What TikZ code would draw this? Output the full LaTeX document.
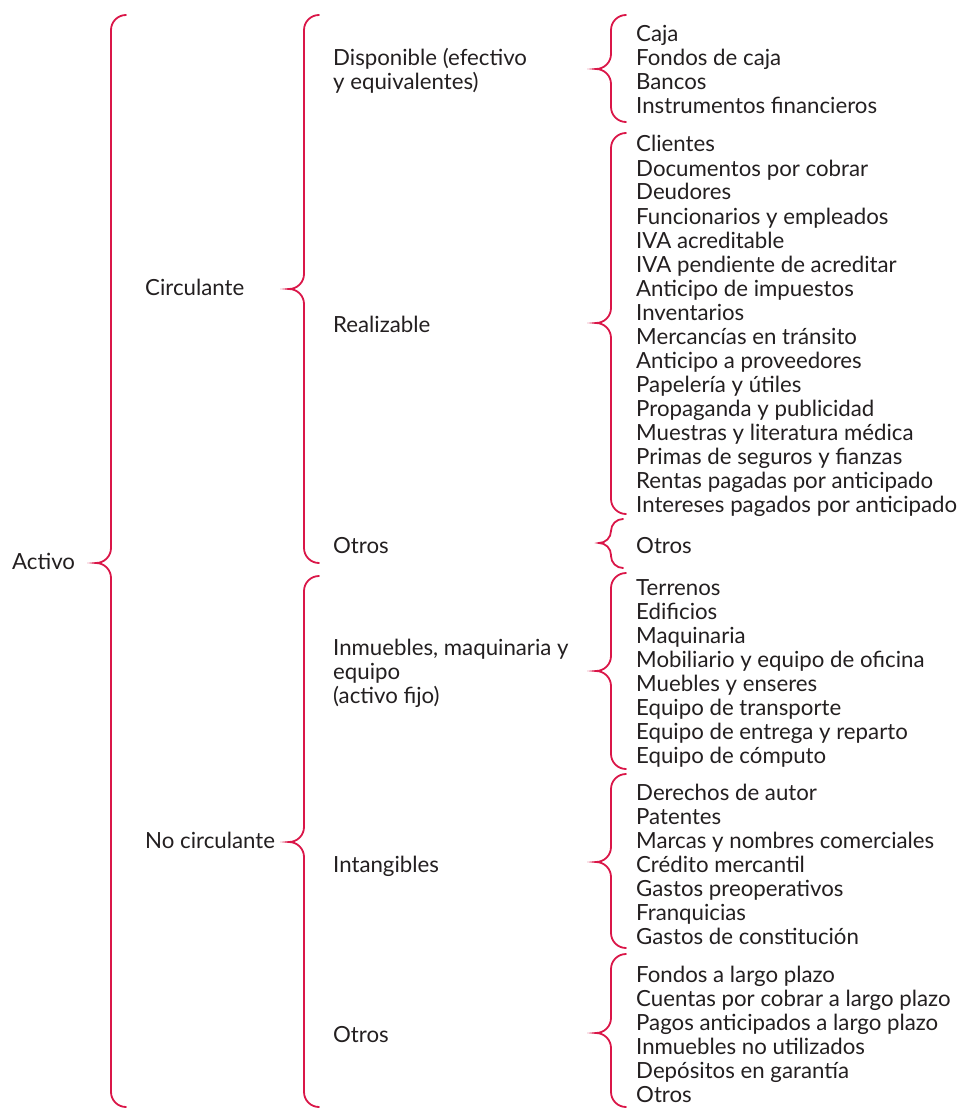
\documentclass[tikz,border=0pt]{standalone}
\usepackage{fontspec}
\setmainfont{Lato}
\definecolor{bracered}{RGB}{218,22,72}
\definecolor{ink}{RGB}{35,31,32}
\newlength\probew
\newcommand\curly[4]{%
  \pgfmathsetmacro\rr{min(15,(#3-#2)/2,(#4-#3)/2)}%
  \draw[brace] (#1+\rr,#2) .. controls (#1+0.45*\rr,#2) and (#1,#2+0.45*\rr) .. (#1,#2+\rr)
    -- (#1,#3-\rr) .. controls (#1,#3-0.45*\rr) and (#1-0.45*\rr,#3) .. (#1-\rr,#3)
    .. controls (#1-0.45*\rr,#3) and (#1,#3+0.45*\rr) .. (#1,#3+\rr)
    -- (#1,#4-\rr) .. controls (#1,#4-0.45*\rr) and (#1+0.45*\rr,#4) .. (#1+\rr,#4);}
\begin{document}
\settowidth\probew{\fontsize{20}{24}\selectfont Intereses pagados por anticipado}%
\pgfmathsetmacro\fs{20*321/\probew}%
\gdef\txtfont{\fontsize{\fs}{24}\selectfont}%
\begin{tikzpicture}[x=1pt,y=-1pt,
  brace/.style={draw=bracered,line width=1.8pt,line cap=round},
  lbl/.style={anchor=base west,inner sep=0pt,text=ink,font=\txtfont}]
\useasboundingbox (0,0) rectangle (960,1110);
% level 0 / 1 labels
\node[lbl] (activo) at (12,569) {Activo};
\node[lbl] (circ) at (145,295) {Circulante};
\node[lbl] (nocirc) at (145,848) {No circulante};
% level 2 labels
\node[lbl] (disp1) at (333,66) {Disponible (efectivo};
\node[lbl] (disp2) at (333,90) {y equivalentes)};
\node[lbl] (real) at (333,332) {Realizable};
\node[lbl] (otros1) at (333,553) {Otros};
\node[lbl] (inm1) at (333,655) {Inmuebles, maquinaria y};
\node[lbl] (inm2) at (333,679) {equipo};
\node[lbl] (inm3) at (333,703) {(activo fijo)};
\node[lbl] (intang) at (333,872) {Intangibles};
\node[lbl] (otros2) at (333,1042) {Otros};
% level 3 items
\foreach \t [count=\i from 0] in {Caja,Fondos de caja,Bancos,Instrumentos financieros}
  \node[lbl] (d\i) at (636,42+24*\i) {\t};
\foreach \t [count=\i from 0] in {Clientes,Documentos por cobrar,Deudores,Funcionarios y empleados,IVA acreditable,IVA pendiente de acreditar,Anticipo de impuestos,Inventarios,Mercancías en tránsito,Anticipo a proveedores,Papelería y útiles,Propaganda y publicidad,Muestras y literatura médica,Primas de seguros y fianzas,Rentas pagadas por anticipado,Intereses pagados por anticipado}
  \node[lbl] (r\i) at (636,152+24*\i) {\t};
\node[lbl] (o0) at (636,553) {Otros};
\foreach \t [count=\i from 0] in {Terrenos,Edificios,Maquinaria,Mobiliario y equipo de oficina,Muebles y enseres,Equipo de transporte,Equipo de entrega y reparto,Equipo de cómputo}
  \node[lbl] (f\i) at (636,595+24*\i) {\t};
\foreach \t [count=\i from 0] in {Derechos de autor,Patentes,Marcas y nombres comerciales,Crédito mercantil,Gastos preoperativos,Franquicias,Gastos de constitución}
  \node[lbl] (g\i) at (636,800+24*\i) {\t};
\foreach \t [count=\i from 0] in {Fondos a largo plazo,Cuentas por cobrar a largo plazo,Pagos anticipados a largo plazo,Inmuebles no utilizados,Depósitos en garantía,Otros}
  \node[lbl] (h\i) at (636,982+24*\i) {\t};
% braces
\curly{111}{15}{563}{1107}
\curly{304}{15}{289}{563}
\curly{304}{576}{842}{1107}
\curly{611}{15}{69}{122}
\curly{611}{133}{323}{514}
\curly{611}{519}{543}{568}
\curly{611}{573}{671}{769}
\curly{611}{774}{862}{948}
\curly{611}{954}{1033}{1107}
\end{tikzpicture}
\end{document}
